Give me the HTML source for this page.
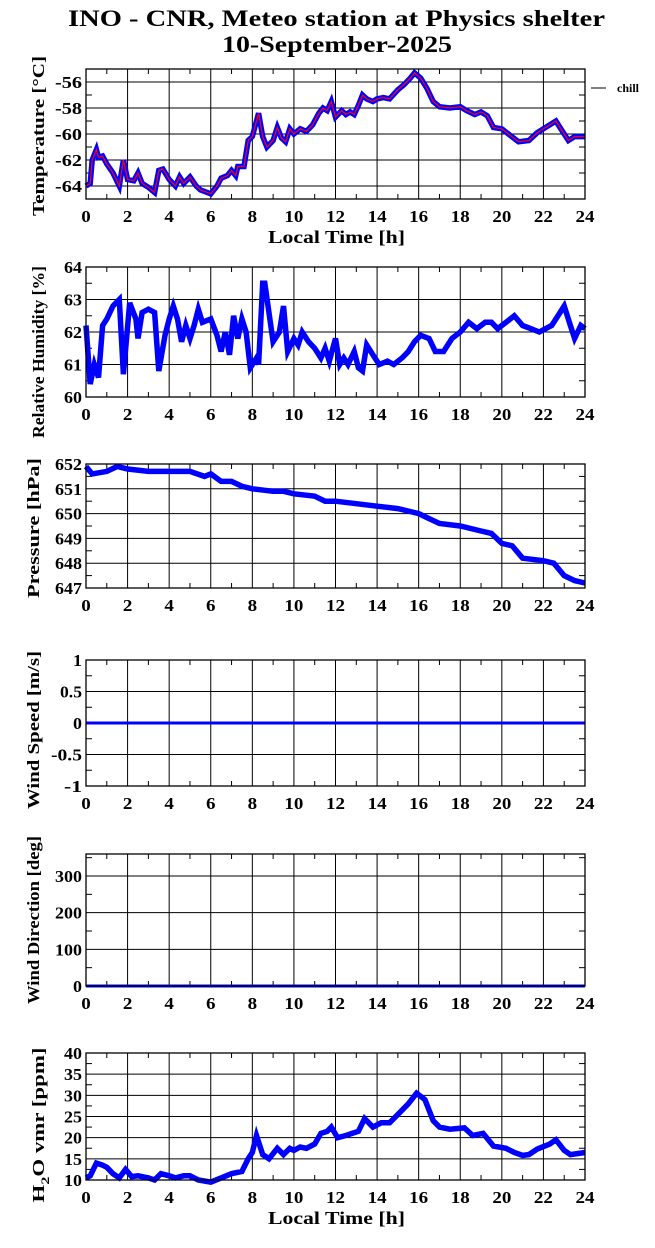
<!DOCTYPE html>
<html><head><meta charset="utf-8"><style>
html,body{margin:0;padding:0;background:#fff;}
svg{display:block;font-family:"Liberation Serif",serif;font-weight:bold;}
</style></head><body>
<svg id="s" width="655" height="1248" viewBox="0 0 655 1248" xmlns="http://www.w3.org/2000/svg">
<text x="68" y="26" font-size="23" textLength="537" lengthAdjust="spacingAndGlyphs">INO - CNR, Meteo station at Physics shelter</text>
<text x="222" y="52" font-size="23" textLength="230" lengthAdjust="spacingAndGlyphs">10-September-2025</text>
<line x1="591" y1="88" x2="606" y2="88" stroke="#000" stroke-width="1"/>
<text x="617" y="92" font-size="12">chill</text>
</svg>
<script>
const S=document.getElementById('s');const NS='http://www.w3.org/2000/svg';
function el(t,a,txt){const e=document.createElementNS(NS,t);for(const k in a)e.setAttribute(k,a[k]);if(txt!==undefined)e.textContent=txt;S.appendChild(e);return e;}
const X0=86,X1=585;const xf=h=>X0+h*(X1-X0)/24;
function panel(o){
 const yf=v=>o.yb+(v-o.vmin)*(o.yt-o.yb)/(o.vmax-o.vmin);
 for(let h=2;h<24;h+=2)el('line',{x1:xf(h),y1:o.yt,x2:xf(h),y2:o.yb,stroke:'#000','stroke-width':1});
 for(let h=1;h<24;h+=2){el('line',{x1:xf(h),y1:o.yt,x2:xf(h),y2:o.yt+5,stroke:'#000'});el('line',{x1:xf(h),y1:o.yb,x2:xf(h),y2:o.yb-5,stroke:'#000'});}
 o.major.forEach(v=>{const y=yf(v);el('line',{x1:X0,y1:y,x2:X1,y2:y,stroke:'#000'});const s=String(v);el('text',{x:X0-4,y:y+6,'font-size':17,'text-anchor':'end',textLength:s.replace('.','').length*9+(s.includes('.')?4:0),lengthAdjust:'spacingAndGlyphs'},s);});
 (o.minor||[]).forEach(v=>{const y=yf(v);el('line',{x1:X0,y1:y,x2:X0+6,y2:y,stroke:'#000'});el('line',{x1:X1,y1:y,x2:X1-6,y2:y,stroke:'#000'});});
 for(let h=0;h<=24;h+=2){const s=String(h);el('text',{x:xf(h),y:o.yb+23,'font-size':17,'text-anchor':'middle',textLength:s.length*9.5,lengthAdjust:'spacingAndGlyphs'},s);}
 const cy=(o.yt+o.yb)/2;
 const t=el('text',{x:0,y:0,'font-size':17,'text-anchor':'middle',textLength:o.ll,lengthAdjust:'spacingAndGlyphs',transform:`translate(${o.lx},${(o.lc||cy)}) rotate(-90)`});
 if(o.h2o){t.innerHTML='H<tspan font-size="12" dy="5">2</tspan><tspan dy="-5">O vmr [ppm]</tspan>';}else t.textContent=o.label;
 if(o.data){
  const d=o.data;let p='';for(let i=0;i<d.length;i+=2)p+=(i?'L':'M')+xf(d[i]).toFixed(1)+' '+yf(d[i+1]).toFixed(1);
  el('path',{d:p,fill:'none',stroke:'#0000ff','stroke-width':5.5,'stroke-linejoin':'miter'});
  if(o.red)el('path',{d:p,fill:'none',stroke:'#ff0000','stroke-width':1.2});
 }
 if(o.flat!==undefined){el('line',{x1:X0,y1:yf(o.flat),x2:X1,y2:yf(o.flat),stroke:'#0000ff','stroke-width':3});}
 el('rect',{x:X0,y:o.yt,width:X1-X0,height:o.yb-o.yt,fill:'none',stroke:'#000','stroke-width':1.3});
 if(o.xl)el('text',{x:268,y:o.yb+44,'font-size':18,textLength:137,lengthAdjust:'spacingAndGlyphs'},'Local Time [h]');
}
const T=[0,-64,0.2,-63.8,0.3,-62,0.5,-61.2,0.6,-61.8,0.8,-61.7,1,-62.3,1.3,-63,1.6,-64,1.8,-62,2,-63.5,2.3,-63.6,2.5,-63,2.7,-63.8,3,-64.1,3.3,-64.5,3.5,-62.8,3.7,-62.7,4,-63.5,4.3,-64,4.5,-63.3,4.7,-63.8,5,-63.3,5.3,-64,5.5,-64.3,6,-64.6,6.3,-64,6.5,-63.4,6.8,-63.2,7,-62.8,7.2,-63.2,7.3,-62.5,7.6,-62.5,7.8,-60.5,8,-60.2,8.3,-58.4,8.5,-60.2,8.7,-61,9,-60.5,9.2,-59.5,9.4,-60.3,9.6,-60.6,9.8,-59.6,10,-60,10.3,-59.6,10.6,-59.8,10.9,-59.3,11.2,-58.4,11.4,-58,11.6,-58.2,11.8,-57.5,12,-58.7,12.3,-58.2,12.5,-58.5,12.7,-58.3,12.9,-58.5,13.1,-57.8,13.3,-57,13.5,-57.3,13.8,-57.5,14,-57.3,14.3,-57.2,14.6,-57.3,15,-56.6,15.3,-56.2,15.6,-55.7,15.8,-55.3,16.1,-55.7,16.4,-56.5,16.7,-57.5,17,-57.9,17.5,-58,18,-57.9,18.3,-58.2,18.7,-58.5,19,-58.3,19.3,-58.6,19.6,-59.5,20,-59.6,20.4,-60.1,20.8,-60.6,21.3,-60.5,21.7,-59.9,22.2,-59.4,22.6,-59,22.8,-59.5,23.2,-60.5,23.5,-60.2,24,-60.2];
const RH=[0,62.2,0.2,60.4,0.4,61,0.6,60.6,0.8,62.2,1,62.4,1.3,62.8,1.6,63,1.8,60.7,2.1,62.9,2.4,62.4,2.5,61.8,2.7,62.6,3,62.7,3.3,62.6,3.5,60.8,3.8,61.9,4,62.4,4.2,62.8,4.4,62.4,4.6,61.7,4.8,62.2,5,61.8,5.2,62.2,5.4,62.7,5.6,62.3,6,62.4,6.3,61.9,6.5,61.4,6.7,62,6.9,61.3,7.1,62.5,7.3,61.8,7.5,62.4,7.7,62,7.9,60.9,8.2,61.2,8.3,61,8.5,63.5,8.6,63.5,9,61.7,9.3,62,9.5,62.8,9.7,61.4,10,61.8,10.2,61.6,10.4,62,10.7,61.7,11,61.5,11.3,61.2,11.5,61.5,11.7,61.1,12,61.8,12.2,61,12.4,61.2,12.6,61,12.9,61.4,13.1,60.9,13.3,60.8,13.5,61.6,13.8,61.3,14.1,61,14.5,61.1,14.8,61.0,15.2,61.2,15.5,61.4,15.8,61.7,16.1,61.9,16.5,61.8,16.8,61.4,17.2,61.4,17.6,61.8,18,62,18.4,62.3,18.8,62.1,19.2,62.3,19.5,62.3,19.8,62.1,20.2,62.3,20.6,62.5,21,62.2,21.4,62.1,21.8,62,22.1,62.1,22.4,62.2,22.7,62.5,23,62.8,23.3,62.2,23.5,61.8,23.8,62.2,24,62.1];
const P=[0,651.9,0.3,651.6,1,651.7,1.5,651.9,2,651.8,3,651.7,4,651.7,5,651.7,5.7,651.5,6,651.6,6.5,651.3,7,651.3,7.5,651.1,8,651.0,9,650.9,9.5,650.9,10,650.8,11,650.7,11.5,650.5,12,650.5,13,650.4,14,650.3,15,650.2,16,650.0,16.5,649.8,17,649.6,18,649.5,19,649.3,19.5,649.2,20,648.8,20.5,648.7,21,648.2,22,648.1,22.5,648.0,23,647.5,23.5,647.3,24,647.2];
const H=[0,10.5,0.2,11,0.5,14,0.8,13.5,1,13,1.3,11.5,1.6,10.5,1.9,12.5,2.2,10.8,2.5,11,3,10.5,3.3,10,3.6,11.5,4,11,4.3,10.5,4.7,11,5,11,5.4,10,6,9.5,6.5,10.5,7,11.5,7.5,12,7.8,15,8,16.5,8.2,20.5,8.5,16,8.8,15,9.2,17.5,9.5,16,9.8,17.5,10,17,10.3,17.8,10.6,17.5,11,18.5,11.3,21,11.6,21.5,11.8,22.5,12.1,20,12.5,20.5,12.8,21,13.1,21.5,13.4,24.5,13.8,22.5,14.2,23.5,14.6,23.5,15,25.5,15.5,28,15.9,30.5,16.3,29,16.7,24,17,22.5,17.5,22,18.2,22.3,18.6,20.5,19.1,21,19.6,18,20.2,17.5,20.6,16.5,21,15.8,21.3,16,21.7,17.3,22.3,18.5,22.6,19.5,23,17,23.3,16,24,16.5];
panel({yt:69,yb:199,vmin:-65,vmax:-55,major:[-56,-58,-60,-62,-64],minor:[-57,-59,-61,-63],label:'Temperature [°C]',lx:44,ll:160,lc:136,data:T,red:true,xl:true});
panel({yt:267,yb:397,vmin:60,vmax:64,major:[60,61,62,63,64],minor:[60.5,61.5,62.5,63.5],label:'Relative Humidity [%]',lx:44,ll:172,lc:352,data:RH});
panel({yt:464,yb:588,vmin:647,vmax:652,major:[647,648,649,650,651,652],minor:[647.5,648.5,649.5,650.5,651.5],label:'Pressure [hPa]',lx:39,ll:140,lc:528,data:P});
panel({yt:660,yb:786,vmin:-1,vmax:1,major:[-1,-0.5,0,0.5,1],minor:[-0.75,-0.25,0.25,0.75],label:'Wind Speed [m/s]',lx:39,ll:158,lc:730,flat:0});
panel({yt:854,yb:986,vmin:0,vmax:360,major:[0,100,200,300],minor:[50,150,250,350],label:'Wind Direction [deg]',lx:39,ll:168,lc:920,flat:0});
panel({yt:1053,yb:1180,vmin:10,vmax:40,major:[10,15,20,25,30,35,40],minor:[12.5,17.5,22.5,27.5,32.5,37.5],h2o:true,lx:44,ll:155,lc:1125,data:H,xl:true});
</script>
</body></html>
